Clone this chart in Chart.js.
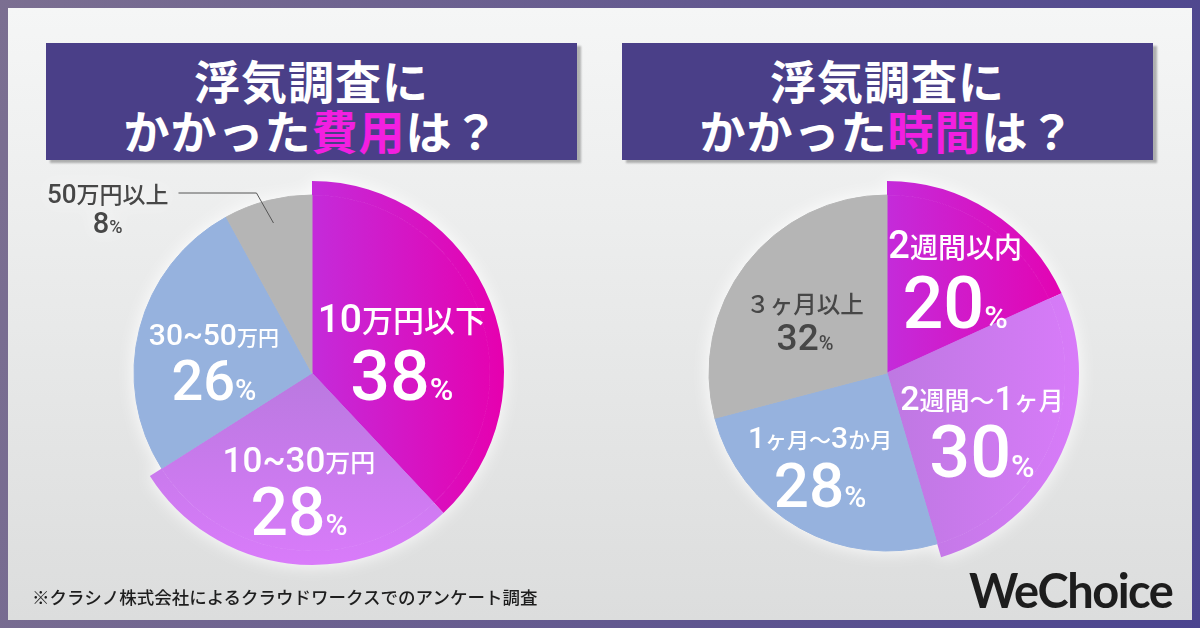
<!DOCTYPE html>
<html lang="ja">
<head>
<meta charset="UTF-8">
<title>浮気調査にかかった費用・時間</title>
<script src="https://cdn.jsdelivr.net/npm/chart.js"></script>
<style>
  html, body { margin: 0; padding: 0; }
  body {
    width: 1200px; height: 628px; position: relative; overflow: hidden;
    background: linear-gradient(100deg, #7b6f91 0%, #62588f 55%, #4b448f 100%);
    font-family: "Noto Sans CJK JP", sans-serif;
  }
  .panel {
    position: absolute; left: 8px; top: 8px; width: 1184px; height: 612px;
    background: linear-gradient(#f5f6f6, #dcdddd);
  }
  .title {
    position: absolute; top: 43px; width: 531px; height: 117px; box-sizing: border-box;
    padding-top: 11px;
    background: #4a3f88;
    box-shadow: 4px 3px 2px rgba(0,0,0,0.28);
    color: #fff; font-weight: 700; font-size: 46px; line-height: 50px;
    text-align: center; letter-spacing: 1px;
  }
  .title span { display: block; white-space: nowrap; }
  .title em { font-style: normal; color: #f21fe0; }
  .pie { position: absolute; top: 153px; filter: drop-shadow(0 0 9px rgba(255,255,255,0.95)); }
  .note {
    position: absolute; left: 32px; top: 584px; font-size: 17.5px; font-weight: 500; color: #1e1e1e;
  }
  .logo {
    position: absolute; left: 969px; top: 562px; font-family: Lato, sans-serif; font-weight: 700;
    font-size: 47px; letter-spacing: -1.5px; color: #1d1d1d;
  }
</style>
</head>
<body>
<div class="panel"></div>
<div class="title" style="left:46px"><span>浮気調査に</span><span>かかった<em>費用</em>は？</span></div>
<div class="title" style="left:622px"><span>浮気調査に</span><span>かかった<em>時間</em>は？</span></div>
<canvas id="costChart" class="pie" width="560" height="440" style="left:32px"></canvas>
<canvas id="timeChart" class="pie" width="560" height="440" style="left:607px"></canvas>
<div class="note">※クラシノ株式会社によるクラウドワークスでのアンケート調査</div>
<div class="logo">WeChoice</div>
<script>
// data
const costLabels = ['10万円以下', '10~30万円', '30~50万円', '50万円以上'];
const costValues = [38, 28, 26, 8];
const timeLabels = ['2週間以内', '2週間～1ヶ月', '1ヶ月～3か月', '３ヶ月以上'];
const timeValues = [20, 30, 28, 32];

// styles
const magenta = { dir: 'h', from: '#c42bda', to: '#e600af' };
const lilacV = { dir: 'v', from: '#ba79e0', to: '#d97bfa' };
const lilacH = { dir: 'h', from: '#be78e2', to: '#d87bf9' };
const blue = '#96b2de';
const gray = '#b5b5b5';
const costFills = [magenta, lilacV, blue, gray];
const timeFills = [magenta, lilacH, blue, gray];
const costBig = [true, true, false, false];
const timeBig = [true, true, false, false];
const BIG_R = 192, SMALL_R = 178;

// label placement relative to each slice: angle shift (deg), distance (fraction of radius),
// sizes [digits, other], percent sizes [digits, %], baseline offsets
const costPlace = [
  { shift: 7.6, dist: 0.52, cat: [39, 31], pct: [70, 32], b1: -19, b2: 49 },
  { shift: -0.9, dist: 0.667, cat: [35, 25], pct: [66, 30], b1: -19, b2: 44 },
  { shift: -7.7, dist: 0.555, cat: [30, 21], pct: [56, 29], b1: -16.5, b2: 38.5 },
  { outside: true, cat: [26, 23], pct: [29, 18], color: '#474747' }
];
const timePlace = [
  { shift: 3.2, dist: 0.652, cat: [38, 28], pct: [72, 32], b1: -21, b2: 49 },
  { shift: 7.3, dist: 0.628, cat: [34, 25], pct: [72, 32], b1: -22, b2: 45 },
  { shift: 6.0, dist: 0.648, cat: [30, 22], pct: [62, 30], b1: -19, b2: 40 },
  { shift: -5.5, dist: 0.544, cat: [24, 23.5], pct: [37, 20], b1: -8.5, b2: 28.5, color: '#474747' }
];

function fillFor(spec, chart) {
  if (typeof spec === 'string') return spec;
  const a = chart.chartArea;
  if (!a) return spec.from;
  const cx = (a.left + a.right) / 2, cy = (a.top + a.bottom) / 2;
  const g = spec.dir === 'h'
    ? chart.ctx.createLinearGradient(cx, 0, cx + BIG_R, 0)
    : chart.ctx.createLinearGradient(0, cy, 0, cy + BIG_R);
  g.addColorStop(0, spec.from);
  g.addColorStop(1, spec.to);
  return g;
}

function fontStr(size) {
  return '500 ' + size + 'px Roboto, "Noto Sans CJK JP", sans-serif';
}

// split text into runs: ascii digits / ~ use the big size
function runs(text, sizes) {
  const out = [];
  for (const ch of text) {
    const big = /[0-9~]/.test(ch);
    const size = big ? sizes[0] : sizes[1];
    if (out.length && out[out.length - 1].size === size) out[out.length - 1].t += ch;
    else out.push({ t: ch, size: size });
  }
  return out;
}

function drawRuns(ctx, text, sizes, cx, baseline, color) {
  const rs = runs(text, sizes);
  let w = 0;
  rs.forEach(r => { ctx.font = fontStr(r.size); r.w = ctx.measureText(r.t).width; w += r.w; });
  let x = cx - w / 2;
  ctx.fillStyle = color;
  ctx.textBaseline = 'alphabetic';
  ctx.textAlign = 'left';
  rs.forEach(r => { ctx.font = fontStr(r.size); ctx.fillText(r.t, x, baseline); x += r.w; });
  return w;
}

const sliceLabels = {
  id: 'sliceLabels',
  afterDatasetsDraw(chart, args, opts) {
    const ctx = chart.ctx;
    const meta = chart.getDatasetMeta(1);
    const labels = chart.data.labels;
    const values = chart.data.datasets[1].data;
    ctx.save();
    meta.data.forEach((arc, i) => {
      const p = opts.place[i];
      const { x, y, startAngle, endAngle, outerRadius } = arc.getProps(['x', 'y', 'startAngle', 'endAngle', 'outerRadius'], true);
      const mid = (startAngle + endAngle) / 2;
      const color = p.color || '#ffffff';
      const pctText = values[i] + '%';
      if (p.outside) {
        const ex = x + Math.cos(mid) * outerRadius * 0.87, ey = y + Math.sin(mid) * outerRadius * 0.87;
        const kx = ex - 17, ky = ey - 30;
        const sx = kx - 78;
        ctx.strokeStyle = '#555';
        ctx.lineWidth = 1;
        ctx.beginPath();
        ctx.moveTo(sx, ky); ctx.lineTo(kx, ky); ctx.lineTo(ex, ey);
        ctx.stroke();
        let w = 0;
        runs(labels[i], p.cat).forEach(r => { ctx.font = fontStr(r.size); w += ctx.measureText(r.t).width; });
        const tc = sx - 10 - w / 2;
        drawRuns(ctx, labels[i], p.cat, tc, ky + 10, color);
        drawRuns(ctx, pctText, p.pct, tc, ky + 40, color);
        return;
      }
      const a = mid + p.shift * Math.PI / 180;
      const ax = x + Math.cos(a) * outerRadius * p.dist;
      const ay = y + Math.sin(a) * outerRadius * p.dist;
      drawRuns(ctx, labels[i], p.cat, ax, ay + p.b1, color);
      drawRuns(ctx, pctText, p.pct, ax, ay + p.b2, color);
    });
    ctx.restore();
  }
};

function makePie(id, labels, values, fills, big, place) {
  const bg = (ctx) => fillFor(fills[ctx.dataIndex], ctx.chart);
  return new Chart(document.getElementById(id), {
    type: 'doughnut',
    data: {
      labels: labels,
      datasets: [
        {
          data: values,
          weight: BIG_R - SMALL_R,
          backgroundColor: (ctx) => big[ctx.dataIndex] ? fillFor(fills[ctx.dataIndex], ctx.chart) : 'rgba(0,0,0,0)',
          borderWidth: 0
        },
        {
          data: values,
          weight: SMALL_R,
          backgroundColor: bg,
          borderColor: bg,
          borderWidth: 1
        }
      ]
    },
    options: {
      responsive: false,
      animation: false,
      cutout: 0,
      radius: BIG_R,
      layout: { padding: 0 },
      events: [],
      plugins: {
        legend: { display: false },
        tooltip: { enabled: false },
        sliceLabels: { place: place }
      }
    },
    plugins: [sliceLabels]
  });
}

makePie('costChart', costLabels, costValues, costFills, costBig, costPlace);
makePie('timeChart', timeLabels, timeValues, timeFills, timeBig, timePlace);
</script>
</body>
</html>
